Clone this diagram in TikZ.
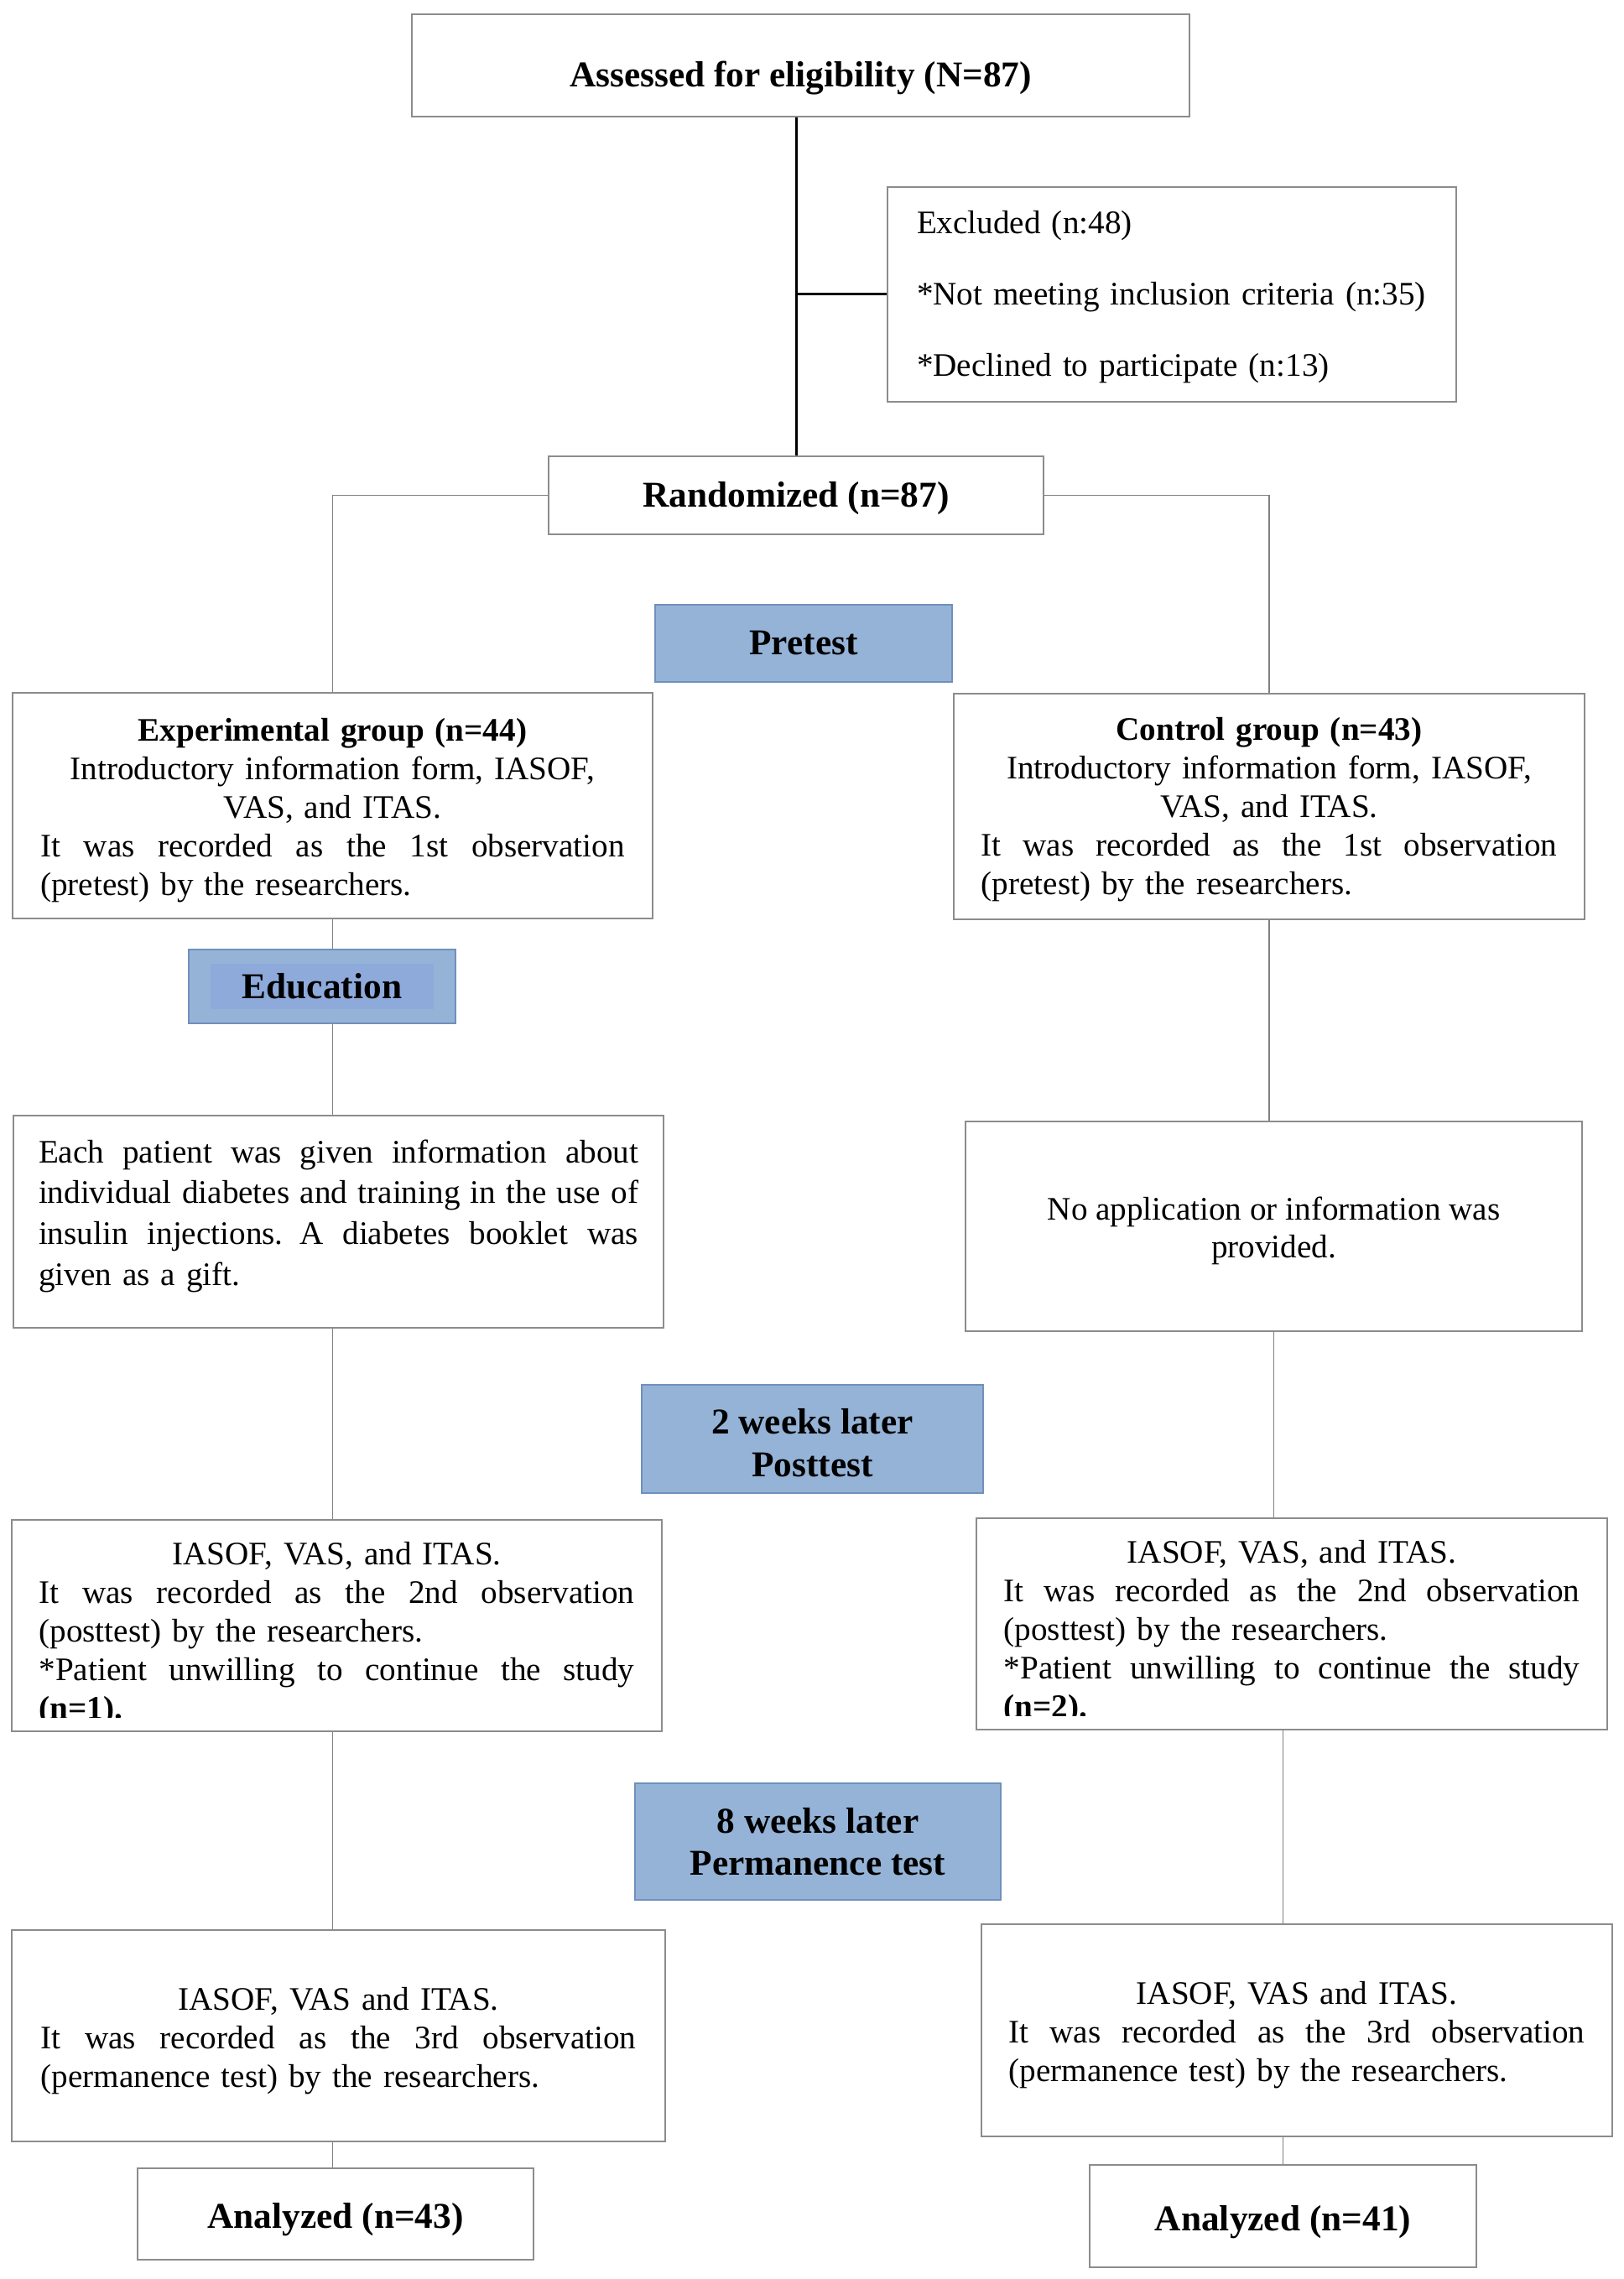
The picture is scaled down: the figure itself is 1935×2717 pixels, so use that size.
\documentclass[tikz,border=0pt]{standalone}
\usepackage{fontspec}
\setmainfont{Liberation Serif}
\definecolor{bluefill}{HTML}{95B3D7}
\definecolor{blueedge}{HTML}{7090BC}
\definecolor{eduinner}{HTML}{8EAADB}
\definecolor{boxgray}{HTML}{8C8C8C}
\definecolor{linegray}{HTML}{808080}
\newcommand\jline[1]{\leavevmode\hbox to\hsize{\spaceskip=\fontdimen2\font plus 1fil minus .3\fontdimen2\font\relax #1}}
\newcommand\lline[1]{\leavevmode\hbox to\hsize{#1\hfil}}
\newcommand\up[1]{\rule{0pt}{#1}}
\tikzset{
  box/.style={draw=boxgray, line width=0.6pt, fill=white, inner xsep=0pt, inner ysep=0pt, align=center},
  title/.style={font=\fontsize{13}{15.6}\selectfont\bfseries},
  body/.style={font=\fontsize{11.75}{13.8}\selectfont},
  bluebox/.style={draw=blueedge, fill=bluefill, line width=0.6pt, inner sep=0pt, align=center, font=\fontsize{13}{15.4}\selectfont\bfseries},
  conn/.style={draw=linegray, line width=0.45pt},
  mainline/.style={draw=black, line width=0.9pt},
}
\begin{document}
\begin{tikzpicture}[x=0.3pt,y=-0.3pt]
\fill[white] (0,0) rectangle (1935,2717);
\useasboundingbox (0,0) rectangle (1935,2717);

% top part
\node[box, title, minimum width=278.1pt, minimum height=36.6pt] (assess) at (954.5,78) {\up{18pt}Assessed for eligibility (N=87)};
\node[box, align=left, text width=182.4pt, minimum width=203.4pt, minimum height=76.8pt, font=\fontsize{11.75}{25.5}\selectfont] (excl) at (1397,351)
  {\up{10.3pt}Excluded (n:48)\\{}*Not meeting inclusion criteria (n:35)\\{}*Declined to participate (n:13)};
\node[box, title, minimum width=177pt, minimum height=27.9pt] (rand) at (949,590.5) {\up{11pt}Randomized (n=87)};

\node[bluebox, minimum width=106.2pt, minimum height=27.6pt] (pre) at (958,767) {Pretest};

% group boxes
\node[box, body, text width=209pt, minimum width=228.9pt, minimum height=80.7pt] (exp) at (396.5,960.5)
  {\up{11.3pt}\textbf{Experimental group (n=44)}\\Introductory information form, IASOF,\\VAS, and ITAS.\\\jline{It was recorded as the 1st observation}\\\lline{(pretest) by the researchers.}};
\node[box, body, text width=206pt, minimum width=225.6pt, minimum height=80.7pt] (ctrl) at (1513,961.5)
  {\up{10.3pt}\textbf{Control group (n=43)}\\Introductory information form, IASOF,\\VAS, and ITAS.\\\jline{It was recorded as the 1st observation}\\\lline{(pretest) by the researchers.}};

\node[bluebox, minimum width=95.4pt, minimum height=26.4pt,
  path picture={\fill[eduinner] ([xshift=7.8pt,yshift=5.1pt]path picture bounding box.south west) rectangle ([xshift=-7.8pt,yshift=-5.1pt]path picture bounding box.north east);}] (edu) at (384,1176) {Education};

\node[box, font=\fontsize{11.75}{14.6}\selectfont, text width=214.5pt, minimum width=232.5pt, minimum height=75.9pt] (pat) at (403.5,1456.5)
  {\jline{Each patient was given information about}\\\jline{individual diabetes and training in the use of}\\\jline{insulin injections. A diabetes booklet was}\\\lline{given as a gift.\rule[-6.6pt]{0pt}{0pt}}};
\node[box, font=\fontsize{11.75}{13.5}\selectfont, minimum width=220.5pt, minimum height=75pt] (noapp) at (1518.5,1462)
  {\up{11.2pt}No application or information was\\provided.};

\node[bluebox, minimum width=122.1pt, minimum height=38.7pt] (wk2) at (968.5,1715.5) {\up{11.9pt}2 weeks later\\Posttest};

\node[box, body, text width=213pt, minimum width=232.5pt, minimum height=75.6pt] (postL) at (401.5,1938)
  {\up{13.9pt}IASOF, VAS, and ITAS.\\\jline{It was recorded as the 2nd observation}\\\lline{(posttest) by the researchers.}\\\jline{*Patient unwilling to continue the study}\\\lline{\textbf{(n=1).}}};
\node[box, body, text width=206pt, minimum width=225.6pt, minimum height=75.6pt] (postR) at (1540,1936)
  {\up{13.9pt}IASOF, VAS, and ITAS.\\\jline{It was recorded as the 2nd observation}\\\lline{(posttest) by the researchers.}\\\jline{*Patient unwilling to continue the study}\\\lline{\textbf{(n=2).}}};
\fill[white] (16,2048) rectangle (787,2061);
\fill[white] (1166,2046) rectangle (1914,2059);

\node[bluebox, font=\fontsize{13}{15}\selectfont\bfseries, minimum width=130.8pt, minimum height=41.7pt] (wk8) at (975,2195.5) {8 weeks later\\Permanence test};

\node[box, body, text width=213pt, minimum width=233.7pt, minimum height=75.6pt] (permL) at (403.5,2427)
  {\up{11.9pt}IASOF, VAS and ITAS.\\\jline{It was recorded as the 3rd observation}\\\lline{(permanence test) by the researchers.}};
\node[box, body, text width=206pt, minimum width=225.6pt, minimum height=75.9pt] (permR) at (1546,2420.5)
  {\up{11.3pt}IASOF, VAS and ITAS.\\\jline{It was recorded as the 3rd observation}\\\lline{(permanence test) by the researchers.}};

\node[box, title, minimum width=141.6pt, minimum height=32.7pt] (analL) at (400,2639.5) {\up{13pt}Analyzed (n=43)};
\node[box, title, minimum width=138.3pt, minimum height=36.6pt] (analR) at (1529.5,2642) {\up{13pt}Analyzed (n=41)};

% connectors
\draw[mainline] (assess.south -| rand.north) -- (rand.north);
\draw[mainline] (excl.west) -- (excl.west -| rand.north);

\draw[conn] (rand.west) -| (exp.north);
\draw[conn] (rand.east) -| (ctrl.north);

\draw[conn] (exp.south) -- (exp.south |- edu.north);
\draw[conn] (edu.south -| exp.south) -- (pat.north -| exp.south);
\draw[conn] (pat.south -| exp.south) -- (postL.north -| exp.south);
\draw[conn] (postL.south -| exp.south) -- (permL.north -| exp.south);
\draw[conn] (permL.south -| exp.south) -- (analL.north -| exp.south);

\draw[conn] (ctrl.south) -- (ctrl.south |- noapp.north);
\draw[conn] (noapp.south) -- (noapp.south |- postR.north);
\draw[conn] (postR.south -| analR.north) -- (permR.north -| analR.north);
\draw[conn] (permR.south -| analR.north) -- (analR.north);
\end{tikzpicture}
\end{document}
